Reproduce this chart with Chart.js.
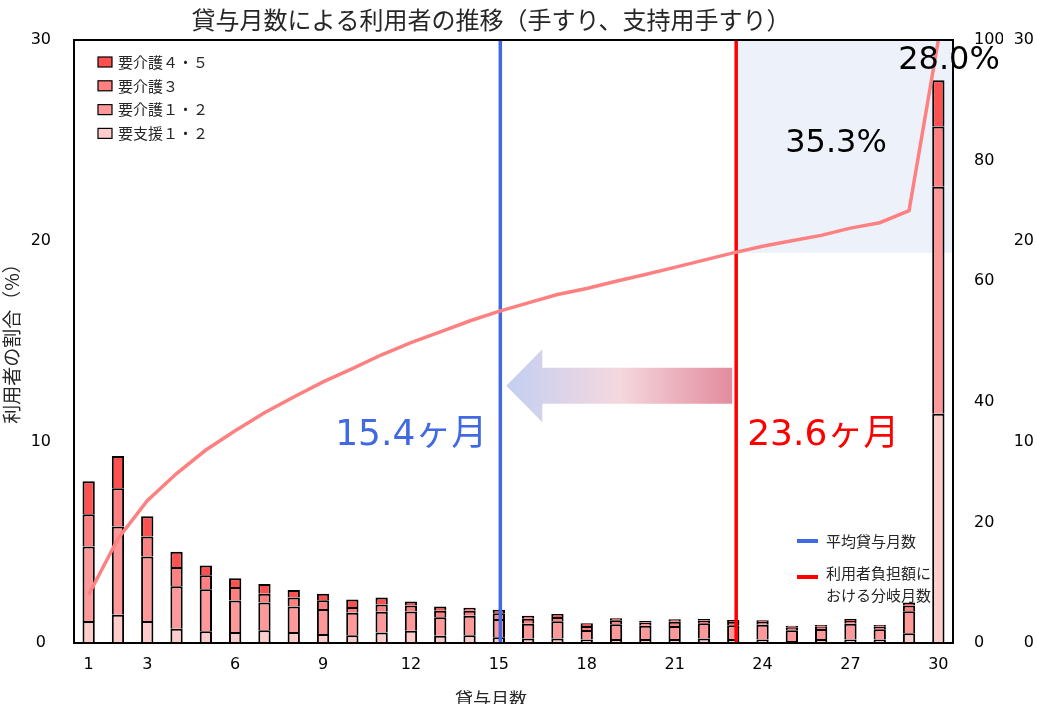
<!DOCTYPE html>
<html lang="ja">
<head>
<meta charset="utf-8">
<title>貸与月数による利用者の推移</title>
<script src="https://cdn.jsdelivr.net/npm/chart.js@4.4.1/dist/chart.umd.min.js"></script>
<style>
    html, body { margin: 0; padding: 0; background: #fff; }
    #wrap { width: 1037px; height: 704px; }
</style>
</head>
<body>
<div id="wrap"><canvas id="rentalChart" width="1037" height="704"></canvas></div>
<script>
// 貸与月数 (x categories)
const months = ['1','2','3','4','5','6','7','8','9','10','11','12','13','14','15',
    '16','17','18','19','20','21','22','23','24','25','26','27','28','29','30'];
const shownMonthTicks = ['1','3','6','9','12','15','18','21','24','27','30'];
const shareTicks = [0, 10, 20, 30];
const cumTicks = [0, 20, 40, 60, 80, 100];

// 利用者の割合 (%) by care level
const shienData   = [1.1, 1.4, 1.1, 0.71, 0.58, 0.55, 0.63, 0.55, 0.45, 0.39, 0.52, 0.61, 0.36, 0.38, 0.29,
    0.23, 0.23, 0.17, 0.2, 0.2, 0.2, 0.22, 0.2, 0.17, 0.1, 0.2, 0.17, 0.17, 0.48, 11.4];
const kaigo12Data = [3.7, 4.4, 3.2, 2.11, 2.09, 1.56, 1.39, 1.27, 1.24, 1.11, 1.03, 0.96, 0.92, 0.97, 0.9,
    0.73, 0.85, 0.48, 0.73, 0.66, 0.65, 0.76, 0.68, 0.74, 0.53, 0.5, 0.79, 0.51, 1.1, 11.3];
const kaigo3Data  = [1.6, 1.9, 1.0, 0.96, 0.7, 0.68, 0.43, 0.44, 0.44, 0.29, 0.37, 0.29, 0.32, 0.26, 0.29,
    0.25, 0.21, 0.2, 0.2, 0.15, 0.21, 0.13, 0.16, 0.13, 0.15, 0.11, 0.13, 0.13, 0.28, 3.0];
const kaigo45Data = [1.65, 1.6, 1.0, 0.76, 0.49, 0.43, 0.49, 0.38, 0.32, 0.37, 0.34, 0.2, 0.21, 0.14, 0.17,
    0.15, 0.15, 0.13, 0.1, 0.08, 0.12, 0.08, 0.1, 0.09, 0.08, 0.09, 0.1, 0.09, 0.16, 2.3];

// 累積割合 (%) line, right axis 0-100
const cumulativeShare = [8.0, 17.3, 23.6, 28.1, 32.0, 35.2, 38.2, 40.8, 43.3, 45.5, 47.8, 49.8, 51.6, 53.4, 55.0,
    56.4, 57.8, 58.8, 60.0, 61.1, 62.3, 63.5, 64.7, 65.8, 66.7, 67.6, 68.8, 69.7, 71.7, 100];

// marker lines (month position) and their labels
const avgLineAt = 15.55;
const branchLineAt = 23.6;
const avgLabel = '15.4ヶ月';
const branchLabel = '23.6ヶ月';
const overShare = 35.3;
const overLabel = '35.3%';
const lastLabel = '28.0%';

const NUM = '"DejaVu Sans", "Noto Sans CJK JP", sans-serif';
const JP = '"Noto Sans CJK JP", sans-serif';
const BLUE = '#4169E1';
const RED = '#FF0000';

const overlay = {
    id: 'overlay',
    beforeDatasetsDraw(chart) {
        const {ctx, chartArea: a, scales} = chart;
        const bx = scales.xLin.getPixelForValue(branchLineAt);
        const by = scales.yCum.getPixelForValue(100 - overShare);
        ctx.save();
        ctx.fillStyle = '#EDF2FA';
        ctx.fillRect(bx, a.top, a.right - bx, by - a.top);
        ctx.restore();
    },
    afterDatasetsDraw(chart) {
        const {ctx, chartArea: a, scales} = chart;
        const blueX = scales.xLin.getPixelForValue(avgLineAt);
        const redX = scales.xLin.getPixelForValue(branchLineAt);
        ctx.save();

        // plot frame
        ctx.strokeStyle = '#000';
        ctx.lineWidth = 2;
        ctx.strokeRect(a.left, a.top, a.right - a.left, a.bottom - a.top);

        // arrow from branch month back to the average
        const cy = scales.y.getPixelForValue(12.8);
        const tip = blueX + 6, headEnd = tip + 36, tail = redX - 4;
        const g = ctx.createLinearGradient(tip, 0, tail, 0);
        g.addColorStop(0, '#C3CFF2');
        g.addColorStop(0.5, '#F5D8DE');
        g.addColorStop(1, '#E38B9E');
        ctx.fillStyle = g;
        ctx.beginPath();
        ctx.moveTo(tip, cy);
        ctx.lineTo(headEnd, cy - 36.5);
        ctx.lineTo(headEnd, cy - 18);
        ctx.lineTo(tail, cy - 18);
        ctx.lineTo(tail, cy + 18);
        ctx.lineTo(headEnd, cy + 18);
        ctx.lineTo(headEnd, cy + 36.5);
        ctx.closePath();
        ctx.fill();

        // big labels
        ctx.textBaseline = 'middle';
        ctx.font = '36px ' + NUM;
        ctx.fillStyle = BLUE;
        ctx.textAlign = 'right';
        ctx.fillText(avgLabel, blueX - 13, 436);
        ctx.fillStyle = RED;
        ctx.textAlign = 'left';
        ctx.fillText(branchLabel, redX + 11, 436);
        ctx.fillStyle = '#000';
        ctx.font = '32px ' + NUM;
        ctx.textAlign = 'center';
        ctx.fillText(overLabel, 836, 144);
        ctx.fillText(lastLabel, 949, 61);

        // legend for care levels (top left)
        const bars = chart.data.datasets.filter(d => d.type !== 'line').reverse();
        ctx.font = '15px ' + JP;
        ctx.textAlign = 'left';
        bars.forEach((d, i) => {
            const y = 62 + i * 23.8;
            ctx.fillStyle = d.backgroundColor;
            ctx.fillRect(98, y - 5, 14, 10);
            ctx.lineWidth = 1.2;
            ctx.strokeStyle = '#000';
            ctx.strokeRect(98, y - 5, 14, 10);
            ctx.fillStyle = '#262626';
            ctx.fillText(d.label, 118, y);
        });

        // legend for marker lines (bottom right)
        ctx.lineWidth = 4;
        ctx.strokeStyle = BLUE;
        ctx.beginPath(); ctx.moveTo(797, 541); ctx.lineTo(818, 541); ctx.stroke();
        ctx.strokeStyle = RED;
        ctx.beginPath(); ctx.moveTo(797, 577); ctx.lineTo(818, 577); ctx.stroke();
        ctx.fillStyle = '#262626';
        ctx.fillText('平均貸与月数', 826, 541);
        ctx.fillText('利用者負担額に', 826, 573);
        ctx.fillText('おける分岐月数', 826, 595);
        ctx.restore();
    },
    afterDraw(chart) {
        const {ctx} = chart;
        ctx.save();
        ctx.fillStyle = '#262626';
        ctx.textAlign = 'center';
        ctx.textBaseline = 'middle';
        ctx.font = '24px ' + JP;
        ctx.fillText('貸与月数による利用者の推移（手すり、支持用手すり）', 491, 20);
        ctx.font = '18px ' + JP;
        ctx.fillText('貸与月数', 491, 699);
        ctx.font = '19px ' + JP;
        ctx.translate(12, 339);
        ctx.rotate(-Math.PI / 2);
        ctx.fillText('利用者の割合（%）', 0, 0);
        ctx.restore();
    }
};

function barSet(label, data, color) {
    return {
        label: label,
        data: data,
        backgroundColor: color,
        borderColor: '#000',
        borderWidth: 2,
        barPercentage: 0.42,
        categoryPercentage: 1,
        grouped: false,
        stack: 'care',
        xAxisID: 'x',
        yAxisID: 'y',
        order: 1
    };
}

const tickFont = {family: NUM, size: 16};
const noGrid = {display: false, drawTicks: false};

new Chart(document.getElementById('rentalChart'), {
    type: 'bar',
    data: {
        labels: months,
        datasets: [
            {
                type: 'line', label: '累積割合', data: cumulativeShare,
                xAxisID: 'x', yAxisID: 'yCum',
                borderColor: '#FF8080', borderWidth: 3.5, pointRadius: 0, tension: 0, order: 0
            },
            {
                type: 'line', label: '平均貸与月数',
                data: [{x: avgLineAt, y: 0}, {x: avgLineAt, y: 30}],
                xAxisID: 'xLin', yAxisID: 'yOuter',
                borderColor: BLUE, borderWidth: 3.5, pointRadius: 0, order: 0
            },
            {
                type: 'line', label: '利用者負担額における分岐月数',
                data: [{x: branchLineAt, y: 0}, {x: branchLineAt, y: 30}],
                xAxisID: 'xLin', yAxisID: 'yOuter',
                borderColor: RED, borderWidth: 3.5, pointRadius: 0, order: 0
            },
            barSet('要支援１・２', shienData, '#FFCCCC'),
            barSet('要介護１・２', kaigo12Data, '#FF9999'),
            barSet('要介護３', kaigo3Data, '#FF8080'),
            barSet('要介護４・５', kaigo45Data, '#FF5050')
        ]
    },
    options: {
        responsive: false,
        animation: false,
        layout: {padding: {top: 40, right: 3, left: 0, bottom: 0}},
        plugins: {
            legend: {display: false},
            title: {display: false},
            tooltip: {enabled: false}
        },
        scales: {
            x: {
                type: 'category',
                offset: true,
                stacked: true,
                grid: noGrid,
                border: {display: false},
                ticks: {
                    autoSkip: false,
                    maxRotation: 0,
                    padding: 12,
                    color: '#000',
                    font: tickFont,
                    callback: function (v, i) {
                        return shownMonthTicks.includes(months[i]) ? months[i] : '';
                    }
                },
                afterFit: s => { s.height = 61; }
            },
            // month positions 1..31 across the plot, for the marker lines
            xLin: {type: 'linear', display: false, offset: false, bounds: 'data', min: 1, max: 31, grid: {offset: false}},
            y: {
                position: 'left',
                stacked: true,
                min: 0,
                max: 30,
                grid: noGrid,
                border: {display: false},
                afterBuildTicks: s => { s.ticks = shareTicks.map(v => ({value: v})); },
                ticks: {crossAlign: 'center', padding: 23, color: '#000', font: tickFont},
                afterFit: s => { s.width = 74; }
            },
            yCum: {
                position: 'right',
                weight: 1,
                min: 0,
                max: 100,
                grid: noGrid,
                border: {display: false},
                afterBuildTicks: s => { s.ticks = cumTicks.map(v => ({value: v})); },
                ticks: {crossAlign: 'near', padding: 21, color: '#000', font: tickFont},
                afterFit: s => { s.width = 50; }
            },
            yOuter: {
                position: 'right',
                weight: 2,
                min: 0,
                max: 30,
                grid: noGrid,
                border: {display: false},
                afterBuildTicks: s => { s.ticks = shareTicks.map(v => ({value: v})); },
                ticks: {crossAlign: 'far', padding: 0, color: '#000', font: tickFont},
                afterFit: s => { s.width = 31; }
            }
        }
    },
    plugins: [overlay]
});
</script>
</body>
</html>
